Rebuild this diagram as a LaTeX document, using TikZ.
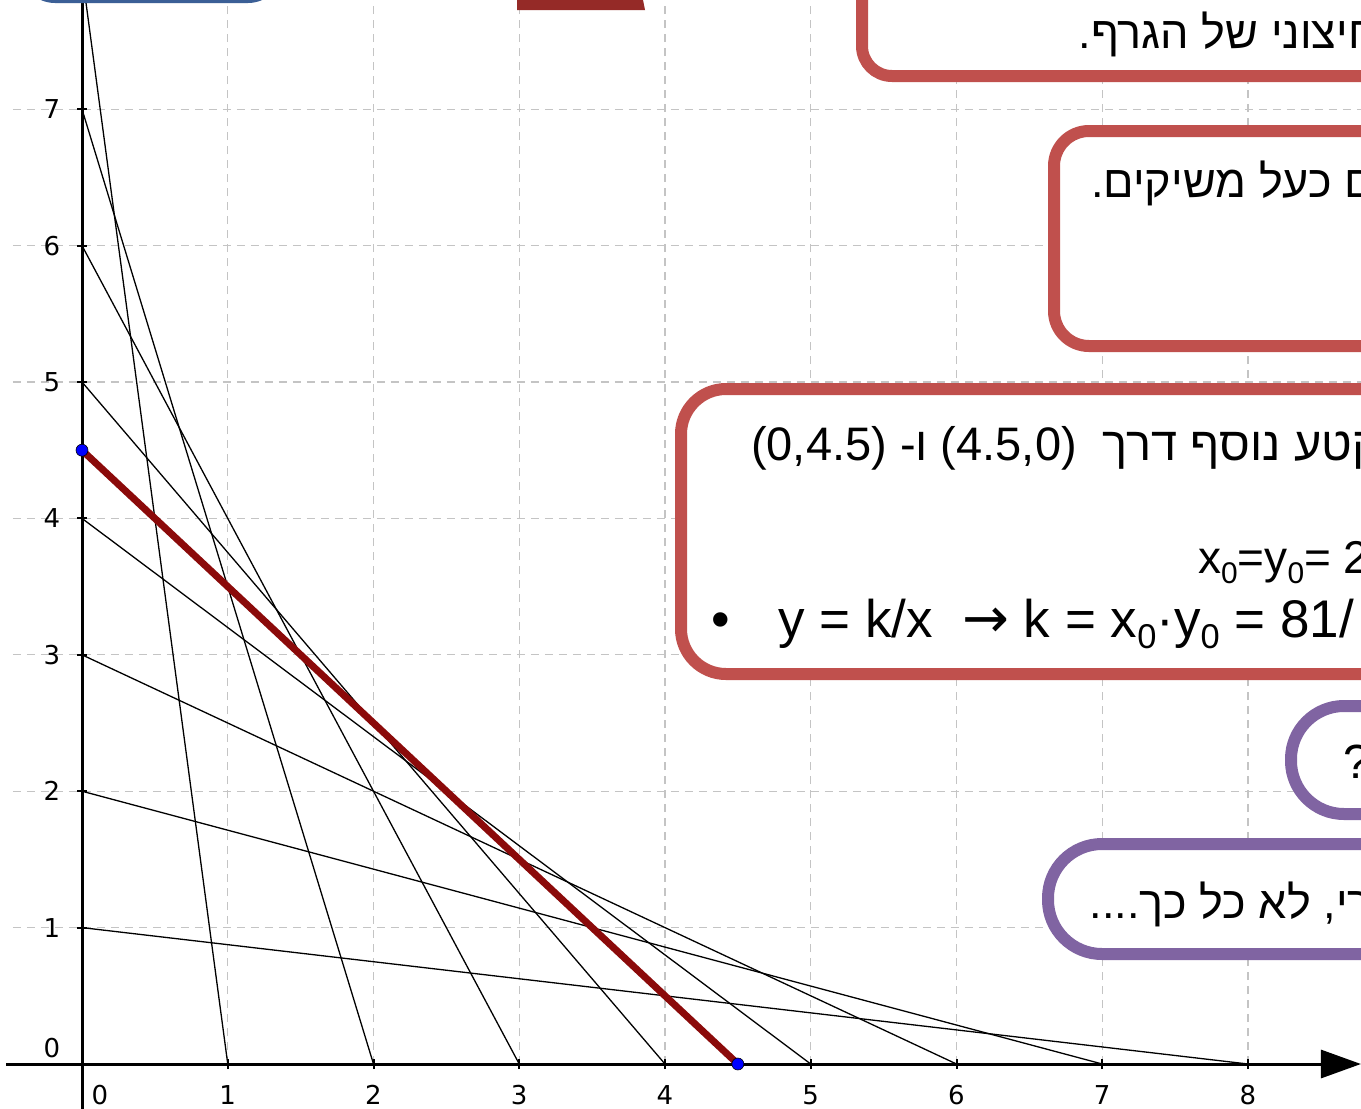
\documentclass[tikz,border=0pt]{standalone}
\usepackage{fontspec}
\setmainfont{Liberation Sans}
\newfontfamily\hebA[Script=Hebrew]{Liberation Sans}
\newfontfamily\tickf{DejaVu Sans}
\TeXXeTstate=1
\usetikzlibrary{arrows.meta}
\definecolor{boxred}{HTML}{C0504D}
\definecolor{boxpurple}{HTML}{8064A2}
\definecolor{gridgray}{HTML}{C4C4C4}
\definecolor{segred}{HTML}{8B0A0A}
\definecolor{topblue}{HTML}{3B5F96}
\definecolor{topred}{HTML}{952A27}
\definecolor{dotblue}{HTML}{0000FF}
\newcommand\zsub{\raisebox{-0.22em}{\scalebox{0.65}{0}}}
\begin{document}
\begin{tikzpicture}[x=1pt,y=-1pt,
  gridline/.style={gridgray, line width=1.2pt, dash pattern=on 8pt off 6pt},
  axisline/.style={black, line width=3pt},
  tickmark/.style={black, line width=2pt},
  family/.style={black, line width=1.3pt},
  mainseg/.style={segred, line width=7pt},
  enddot/.style={circle, fill=dotblue, draw=black, line width=0.6pt, minimum size=12pt, inner sep=0pt},
  ticklab/.style={font=\tickf\fontsize{26}{30}\selectfont, inner sep=0pt},
  redbox/.style={draw=boxred, line width=12pt, fill=white, inner sep=0pt},
  purplebox/.style={draw=boxpurple, line width=12pt, fill=white, inner sep=0pt},
  txt/.style={inner sep=0pt, anchor=base west, text=black},
  rtxt/.style={inner sep=0pt, anchor=base east, text=black}]
\useasboundingbox (0,0) rectangle (1361,1109);
\clip (0,0) rectangle (1361,1109);
\fill[white] (0,0) rectangle (1361,1109);

\begin{scope}[shift={(82,1064)}, x=145.75pt, y=136.4pt]
  % grid
  \foreach \i in {1,...,8} \draw[gridline] (\i,0) -- (\i,7.85);
  \foreach \j in {1,...,7} \draw[gridline] (-0.475,\j) -- (8.8,\j);
  % family of segments
  \foreach \k in {1,...,8} {
    \pgfmathtruncatemacro\m{9-\k}
    \coordinate (Y\k) at (0,\k);
    \coordinate (X\m) at (\m,0);
    \draw[family] (Y\k) -- (X\m);
  }
  % axes
  \coordinate (xl) at (-0.52,0);
  \coordinate (xr) at (8.775,0);
  \coordinate (yb) at (0,-0.35);
  \coordinate (yt) at (0,8.2);
  \draw[axisline] (yb) -- (yt);
  \draw[axisline, -{Triangle[length=40pt,width=28pt]}] (xl) -- (xr);
  \foreach \i in {1,...,8} \draw[tickmark] (\i,0) ++(0pt,-5pt) -- ++(0pt,10pt);
  \foreach \j in {1,...,7} \draw[tickmark] (0,\j) ++(-5pt,0pt) -- ++(10pt,0pt);
  % tick labels
  \node[ticklab] (lx0) at ([xshift=18pt,yshift=-31pt]0,0) {0};
  \foreach \i in {1,...,8} \node[ticklab] (lx\i) at ([yshift=-31pt]\i,0) {\i};
  \node[ticklab] (ly0) at ([xshift=-30pt,yshift=16pt]0,0) {0};
  \foreach \j in {1,...,7} \node[ticklab] (ly\j) at ([xshift=-30pt]0,\j) {\j};
  % main segment
  \coordinate (A) at (0,4.5);
  \coordinate (B) at (4.5,0);
  \draw[mainseg] (A) -- (B);
  \node[enddot] (dA) at (A) {};
  \node[enddot] (dB) at (B) {};
\end{scope}

% top partial shapes
\node[fill=topblue, rounded corners=35pt, minimum width=263pt, minimum height=103pt, inner sep=0pt] (bluebox) at (151.5,-48.5) {};
\fill[topred] (517,-5) -- (517,10) -- (645,10) -- (642,-5) -- cycle;

% boxes
\node[redbox, rounded corners=30pt, minimum width=638pt, minimum height=136pt] (box1) at (1181,8) {};
\node[redbox, rounded corners=35pt, minimum width=446pt, minimum height=215pt] (box2) at (1277,238.5) {};
\node[redbox, rounded corners=45pt, minimum width=819pt, minimum height=285pt] (box3) at (1090.5,531.5) {};
\node[purplebox, rounded corners=53pt, minimum width=209pt, minimum height=108pt] (box4) at (1395.5,760) {};
\node[purplebox, rounded corners=54pt, minimum width=452pt, minimum height=110pt] (box5) at (1274,899) {};

% texts
\node[rtxt, font=\hebA\fontsize{45}{50}\selectfont] (t1) at (1378,48) {\beginR חיצוני של הגרף.\endR};
\node[rtxt, font=\hebA\fontsize{45}{50}\selectfont] (t2) at (1375,197) {\beginR ם כעל משיקים.\endR};
\node[txt, font=\hebA\fontsize{47}{55}\selectfont] (t3a) at (751,460) {\beginR קטע נוסף דרך\ \ \beginL(4.5,0)\endL{} ו- \beginL(0,4.5)\endL\endR};
\node[txt, font=\fontsize{46}{55}\selectfont] (t3b) at (1198,573) {x\zsub=y\zsub= 2};
\node[txt, font=\fontsize{53}{60}\selectfont] (bul) at (711,637) {•};
\node[txt, font=\fontsize{53}{60}\selectfont] (t3c) at (778,637) {y = k/x\ \ {\tickf\fontsize{56}{60}\selectfont →} k = x\zsub·y\zsub\ = 81/};
\node[txt, font=\fontsize{48}{55}\selectfont] (t4) at (1343,778) {?};
\node[rtxt, font=\hebA\fontsize{45}{50}\selectfont] (t5) at (1372,918) {\beginR רי, לא כל כך....\endR};
\end{tikzpicture}
\end{document}
